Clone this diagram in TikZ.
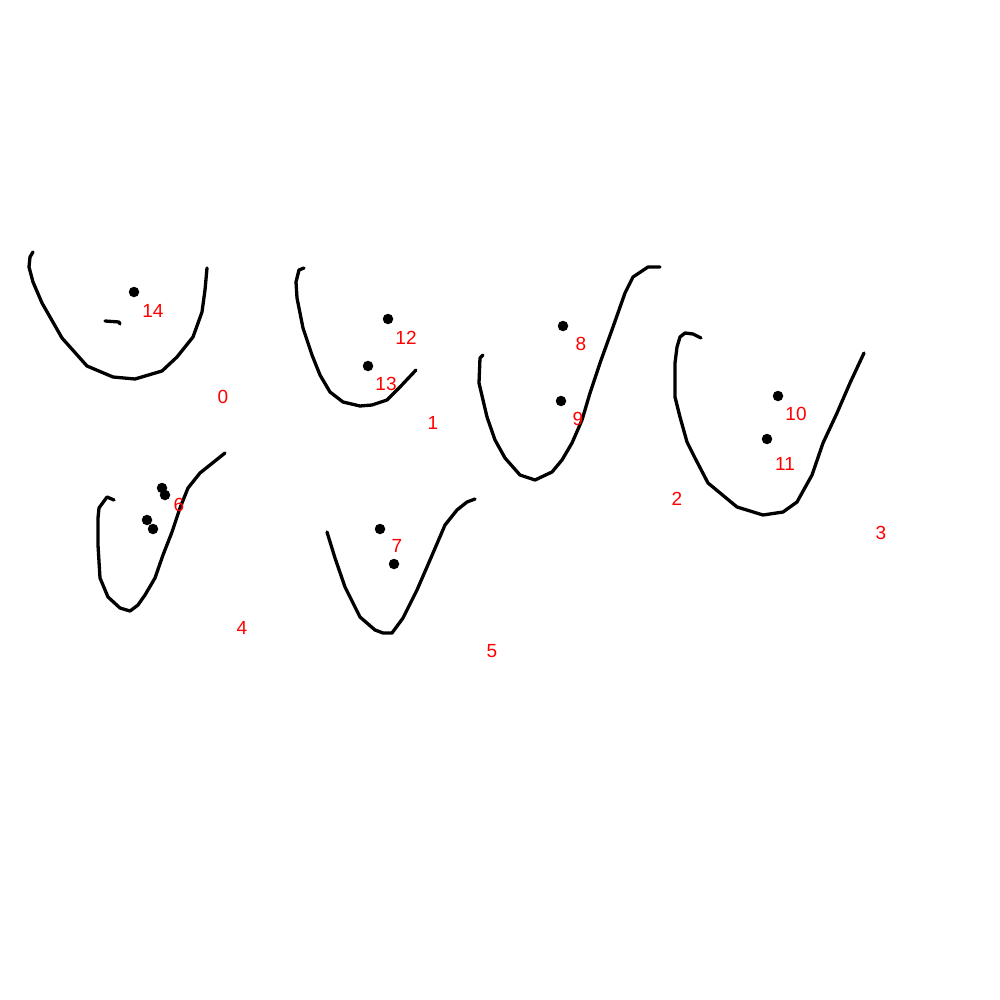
\documentclass[tikz,border=0pt]{standalone}
\usepackage{fontspec}
\setmainfont{Liberation Sans}
\usetikzlibrary{positioning}
\definecolor{inkcol}{RGB}{0, 0, 0}
\definecolor{tagcol}{RGB}{255, 0, 0}
\tikzset{
  stroke/.style = {draw=inkcol, line width=3.3pt, line cap=round, line join=round},
  blob/.style   = {circle, fill=inkcol, inner sep=0pt, minimum size=10.5pt},
  tag/.style    = {text=tagcol, inner sep=0pt, font=\fontsize{19}{19}\selectfont},
}
\begin{document}
\begin{tikzpicture}[x=1pt, y=-1pt]
  \useasboundingbox (0,0) rectangle (1000,1000);

  %% ================ stroke 0 ================
  \draw[stroke] (33,252) -- (30,257) -- (29,267) -- (33,282) -- (42,303) -- (62,338)
    -- (87,366) -- (113,377) -- (135,379) -- (162,371) -- (177,357) -- (193,337)
    -- (202,312) -- (205,290) -- (207,268);
  \draw[stroke] (105,321) -- (119,322) -- (120,324);
  \node[blob] (p14) at (134,292) {};
  \node[tag] (t14) at (153,311) {14};
  \node[tag] (t0) at (223,397) {0};

  %% ================ stroke 1 ================
  \draw[stroke] (304,268) -- (299,270) -- (296,282) -- (297,298) -- (303,328) -- (312,355)
    -- (320,375) -- (330,392) -- (343,402) -- (360,406) -- (372,405) -- (387,400)
    -- (400,387) -- (416,370);
  \node[blob] (p12) at (388,319) {};
  \node[tag] (t12) at (406,338) {12};
  \node[blob] (p13) at (368,366) {};
  \node[tag] (t13) at (386,384) {13};
  \node[tag] (t1) at (433,423) {1};

  %% ================ stroke 2 ================
  \draw[stroke] (483,355) -- (480,358) -- (479,383) -- (487,417) -- (495,440) -- (505,458)
    -- (520,475) -- (535,480) -- (552,472) -- (562,460) -- (572,443) -- (582,420)
    -- (590,393) -- (600,363) -- (613,327) -- (625,293) -- (633,277) -- (648,267)
    -- (660,267);
  \node[blob] (p8) at (563,326) {};
  \node[tag] (t8) at (581,344) {8};
  \node[blob] (p9) at (561,401) {};
  \node[tag] (t9) at (578,419) {9};
  \node[tag] (t2) at (677,499) {2};

  %% ================ stroke 3 ================
  \draw[stroke] (701,338) -- (693,334) -- (685,333) -- (680,337) -- (677,347) -- (675,363)
    -- (675,397) -- (680,417) -- (687,442) -- (695,458) -- (708,483) -- (737,507)
    -- (763,515) -- (783,512) -- (797,502) -- (812,475) -- (823,443) -- (837,413)
    -- (850,383) -- (864,353);
  \node[blob] (p10) at (778,396) {};
  \node[tag] (t10) at (796,414) {10};
  \node[blob] (p11) at (767,439) {};
  \node[tag] (t11) at (785,464) {11};
  \node[tag] (t3) at (881,533) {3};

  %% ================ stroke 4 ================
  \draw[stroke] (114,500) -- (107,497) -- (99,508) -- (98,518) -- (98,545) -- (100,578)
    -- (108,597) -- (120,608) -- (130,611) -- (138,605) -- (145,595) -- (155,578)
    -- (163,555) -- (172,532) -- (180,508) -- (188,488) -- (200,473) -- (225,453);
  \node[blob] (p6a) at (162,488) {};
  \node[blob] (p6b) at (165,495) {};
  \node[blob] (p6c) at (147,520) {};
  \node[blob] (p6d) at (153,529) {};
  \node[tag] (t6) at (179,505) {6};
  \node[tag] (t4) at (242,628) {4};

  %% ================ stroke 5 ================
  \draw[stroke] (327,532) -- (335,558) -- (345,587) -- (360,617) -- (375,630) -- (383,633)
    -- (392,633) -- (403,618) -- (417,590) -- (430,560) -- (445,525) -- (457,510)
    -- (467,502) -- (475,499);
  \node[blob] (p7a) at (380,529) {};
  \node[blob] (p7b) at (394,564) {};
  \node[tag] (t7) at (397,546) {7};
  \node[tag] (t5) at (492,651) {5};

\end{tikzpicture}
\end{document}
